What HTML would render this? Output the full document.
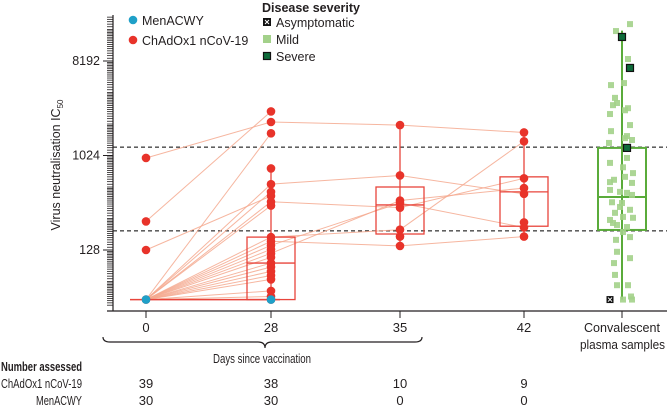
<!DOCTYPE html>
<html><head><meta charset="utf-8"><style>
body{margin:0;background:#fff;}
svg{display:block;font-family:"Liberation Sans",sans-serif;}
</style></head><body>
<svg id="c" width="667" height="409" viewBox="0 0 667 409"></svg>
<script>
const categories=["0","28","35","42","Convalescent"];
const catX=[146,271,400,524,622];
const baseVal=43;
const day0=[970,240,128,43];
const day28=[2700,2140,1670,770,545,460,420,370,340,170,155,142,130,119,109,96,88,80,73,67,52,46,43];
const day35=[2000,660,380,360,325,200,172,140];
const day42=[1700,1400,620,500,440,235,210,172];
const boxQ1=[null,43,182,216,199];
const boxMed=[null,96,345,460,411];
const boxQ3=[null,170,512,640,1210];
const whiskLo=[null,43,140,172,43];
const whiskHi=[null,770,2000,1700,16000];
const refLines=[1230,195];
const trajectories=[[970,2140,2000,1700],[240,2700,null,null],[43,1670,null,null],[128,420,null,null],[43,545,660,440],[43,370,325,620],[43,170,200,1400],[43,155,140,172],[43,119,380,500],[43,142,360,210],[43,460],[43,340],[43,130],[43,109],[43,96],[43,88],[43,80],[43,73],[43,67],[43,52],[43,46],[43,43]];
const convVals=[18450,15830,8560,4820,5040,3640,3100,3250,2900,2770,2550,2000,1750,1570,1440,1350,1500,870,970,790,695,600,640,560,480,460,450,366,360,310,290,265,260,248,222,212,232,190,170,160,123,107,96,74,59,59,43,46,43,570,430,330];
const convJit=[8,-6,6,-11,2,-7,-9,-5,6,3,-12,8,-11,5,10,-13,3,-12,5,1,11,-8,3,10,-12,-2,5,-10,0,8,-7,1,11,-12,-5,5,-9,1,8,-6,-5,8,-8,-7,6,-5,1,9,10,-12,10,-2];
const severeVals=[13900,7030,1210];
const severeJit=[0,8,5];
const asympVals=[43];
const asympJit=[-12];
const yTickVals=[128,1024,8192];
const countsChAd=["39","38","10","9"];
const countsMen=["30","30","0","0"];

const svg=document.getElementById('c');
const NS="http://www.w3.org/2000/svg";
function y(v){return 155.5-31.5*Math.log2(v/1024);}
function mk(t,a,p){const e=document.createElementNS(NS,t);for(const k in a)e.setAttribute(k,a[k]);(p||svg).appendChild(e);return e;}
function txt(s,x,yy,a){const e=mk('text',Object.assign({x:x,y:yy,'font-size':12,fill:'#231f20'},a||{}));e.textContent=s;return e;}

refLines.forEach((v,i)=>{const l=mk('line',{x1:113,x2:667,y1:y(v),y2:y(v),stroke:'#000','stroke-dasharray':'4,3','stroke-width':1});

});

const ya=mk('line',{x1:113,x2:113,y1:15,y2:311,stroke:'#231f20','stroke-width':1.2});


const xa=mk('line',{x1:107,x2:667,y1:311,y2:311,stroke:'#231f20','stroke-width':1.2});


for(let n=5;n<=14;n++){for(let i=0;i<16;i++){const v=Math.pow(2,n)*(1+i/16);const yy=y(v);if(yy<16||yy>306)continue;
mk('line',{x1:107,x2:113,y1:yy,y2:yy,stroke:'#231f20','stroke-width':0.8});}}
yTickVals.forEach(v=>{mk('line',{x1:103,x2:113,y1:y(v),y2:y(v),stroke:'#231f20','stroke-width':1});
const t=txt(String(v),100,y(v)+4,{'text-anchor':'end','font-size':12.5});

});
const yt=txt('',0,0,{'text-anchor':'middle','font-size':12.5,transform:'translate(60,165) rotate(-90)'});
yt.innerHTML='Virus neutralisation IC<tspan font-size="8" dy="3">50</tspan>';



categories.forEach((c,i)=>{mk('line',{x1:catX[i],x2:catX[i],y1:311,y2:318,stroke:'#231f20'});
if(i<4){const t=txt(c,catX[i],332,{'text-anchor':'middle','font-size':13});

}});
const cv=txt('Convalescent',584,332,{'font-size':13,textLength:76,lengthAdjust:'spacingAndGlyphs'});


txt('plasma samples',580,349,{'font-size':13,textLength:85,lengthAdjust:'spacingAndGlyphs'});
const br=mk('path',{d:'M103,337 Q103,342 110,342 L258,342 Q265,342 265,348 Q265,342 272,342 L415,342 Q422,342 422,337',fill:'none',stroke:'#231f20','stroke-width':1.2});


const xt=txt('Days since vaccination',213,363,{'font-size':13,textLength:98,lengthAdjust:'spacingAndGlyphs'});



trajectories.forEach(tr=>{let pts=[];tr.forEach((v,i)=>{if(v!=null)pts.push(catX[i]+','+y(v));});
const p=mk('polyline',{points:pts.join(' '),fill:'none',stroke:'#f4a98f','stroke-width':1,opacity:0.85});

});
mk('line',{x1:130,x2:280,y1:y(baseVal),y2:y(baseVal),stroke:'#e8453c','stroke-width':1.5});

for(let i=1;i<5;i++){const col=i==4?'#5aab3a':'#e8453c';const w=i==4?2:1.3;const hw=24;
mk('line',{x1:catX[i],x2:catX[i],y1:y(whiskHi[i]),y2:y(whiskLo[i]),stroke:col,'stroke-width':w});
const b=mk('rect',{x:catX[i]-hw,y:y(boxQ3[i]),width:hw*2,height:y(boxQ1[i])-y(boxQ3[i]),fill:'none',stroke:col,'stroke-width':w});


mk('line',{x1:catX[i]-hw,x2:catX[i]+hw,y1:y(boxMed[i]),y2:y(boxMed[i]),stroke:col,'stroke-width':w});}

[day0,day28,day35,day42].forEach((arr,i)=>arr.forEach(v=>{const c=mk('circle',{cx:catX[i],cy:y(v),r:4.3,fill:'#e8332a'});

}));
[0,1].forEach(i=>{const c=mk('circle',{cx:catX[i],cy:y(baseVal),r:4.3,fill:'#1fa0c8'});

});

convVals.forEach((v,i)=>{const r=mk('rect',{x:catX[4]+convJit[i]-3,y:y(v)-3,width:6,height:6,fill:'#a3d18a',opacity:0.9});

});
severeVals.forEach((v,i)=>{const r=mk('rect',{x:catX[4]+severeJit[i]-3.5,y:y(v)-3.5,width:7,height:7,fill:'#0e6b3a',stroke:'#111','stroke-width':1.2});

});
asympVals.forEach((v,i)=>{const x=catX[4]+asympJit[i],yy=y(v);const r=mk('rect',{x:x-3.5,y:yy-3.5,width:7,height:7,fill:'#111'});


mk('path',{d:`M${x-2},${yy-2}L${x+2},${yy+2}M${x+2},${yy-2}L${x-2},${yy+2}`,stroke:'#fff','stroke-width':1});});

const g1=mk('g',{});
mk('circle',{cx:133,cy:20,r:4.3,fill:'#1fa0c8'},g1);txt('MenACWY',142,25,{'font-size':12.5});
mk('circle',{cx:133,cy:40,r:4.3,fill:'#e8332a'},g1);txt('ChAdOx1 nCoV-19',142,45,{'font-size':12.5});
txt('Disease severity',262,12,{'font-size':12.5,'font-weight':'bold'});
mk('rect',{x:263,y:18,width:8,height:8,fill:'#111'});
mk('path',{d:'M265,20L269,24M269,20L265,24',stroke:'#fff','stroke-width':1});
txt('Asymptomatic',276,27,{'font-size':12.5});
mk('rect',{x:263,y:35,width:8,height:8,fill:'#a3d18a'});
txt('Mild',276,44,{'font-size':12.5});
mk('rect',{x:263.5,y:52.5,width:7,height:7,fill:'#0e6b3a',stroke:'#111','stroke-width':1.2});
txt('Severe',276,61,{'font-size':12.5});

txt('Number assessed',1,371,{'font-size':13,'font-weight':'bold',textLength:81,lengthAdjust:'spacingAndGlyphs'});
txt('ChAdOx1 nCoV-19',1,388,{'font-size':13,textLength:81,lengthAdjust:'spacingAndGlyphs'});
txt('MenACWY',36,405,{'font-size':13,textLength:46,lengthAdjust:'spacingAndGlyphs'});
countsChAd.forEach((s,i)=>{const t=txt(s,catX[i],388,{'text-anchor':'middle','font-size':13});});
countsMen.forEach((s,i)=>{const t=txt(s,catX[i],405,{'text-anchor':'middle','font-size':13});});
</script>
</body></html>
